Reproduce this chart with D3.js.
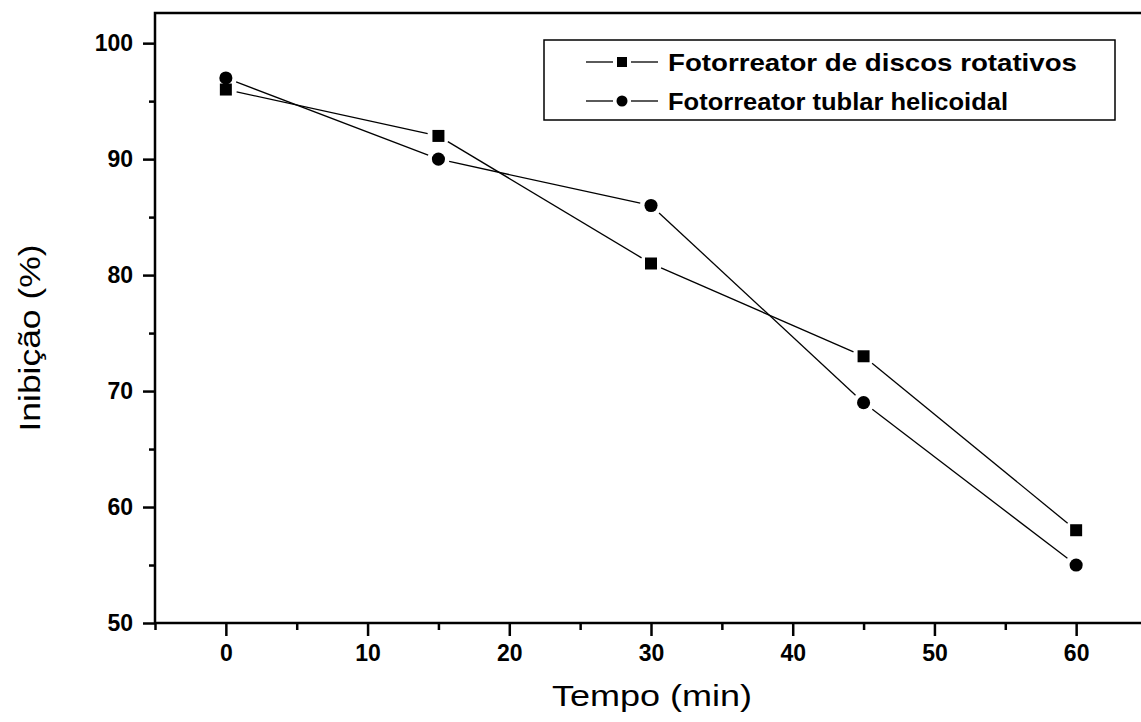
<!DOCTYPE html>
<html><head><meta charset="utf-8">
<script src="https://cdn.jsdelivr.net/npm/d3@7"></script>
<style>body{margin:0;background:#fff}text{font-family:"Liberation Sans",Arial,sans-serif}</style>
</head><body>
<svg id="c" width="1141" height="722"></svg>
<script>
const tempo = [0, 15, 30, 45, 60];
const discos = [96, 92, 81, 73, 58];
const tubular = [97, 90, 86, 69, 55];
const seriesNames = ["Fotorreator de discos rotativos", "Fotorreator tublar helicoidal"];
const xTicks = [0, 10, 20, 30, 40, 50, 60];
const yTicks = [50, 60, 70, 80, 90, 100];

const svg = d3.select("#c");
const x = d3.scaleLinear().domain([-5, 65]).range([155, 1147]);
const y = d3.scaleLinear().domain([50, 102.6]).range([623, 13]);

svg.append("rect").attr("x",155).attr("y",13).attr("width",992).attr("height",610)
  .attr("fill","none").attr("stroke","#000").attr("stroke-width",2.5);

const xa = svg.append("g").attr("transform","translate(0,623)")
  .call(d3.axisBottom(x).tickValues(xTicks).tickSize(13).tickPadding(9).tickFormat(d3.format("d")));
const xm = svg.append("g").attr("transform","translate(0,623)")
  .call(d3.axisBottom(x).tickValues(d3.range(-5,66,10)).tickSize(7).tickFormat(""));
const ya = svg.append("g").attr("transform","translate(155,0)")
  .call(d3.axisLeft(y).tickValues(yTicks).tickSize(12).tickPadding(10));
const ym = svg.append("g").attr("transform","translate(155,0)")
  .call(d3.axisLeft(y).tickValues([55,65,75,85,95]).tickSize(6).tickFormat(""));
[xa,xm,ya,ym].forEach(g=>{
  g.attr("font-size",null).attr("font-family",null);
  g.select(".domain").remove();
  g.selectAll("line").attr("stroke","#000").attr("stroke-width",2.5);
  g.selectAll("text").style("font-size","23px").style("font-weight","bold").attr("fill","#000");
});

svg.append("text").attr("x",652).attr("y",706).attr("text-anchor","middle")
  .style("font-size","30px").attr("textLength",200).attr("lengthAdjust","spacingAndGlyphs").text("Tempo (min)");
svg.append("text").attr("transform","translate(40,338) rotate(-90)").attr("text-anchor","middle")
  .style("font-size","30px").attr("textLength",187).attr("lengthAdjust","spacingAndGlyphs").text("Inibição (%)");

const gap = 11;
function drawSeries(vals, shape){
  const pts = tempo.map((t,i)=>[x(t), y(vals[i])]);
  for(let i=0;i<pts.length-1;i++){
    const [x1,y1]=pts[i],[x2,y2]=pts[i+1];
    const dx=x2-x1, dy=y2-y1, L=Math.hypot(dx,dy);
    const ux=dx/L, uy=dy/L;
    svg.append("line").attr("x1",x1+ux*gap).attr("y1",y1+uy*gap)
      .attr("x2",x2-ux*gap).attr("y2",y2-uy*gap)
      .attr("stroke","#000").attr("stroke-width",1.3);
  }
  const sym = d3.symbol().type(shape==="sq"?d3.symbolSquare:d3.symbolCircle).size(shape==="sq"?144:135);
  svg.selectAll(null).data(pts).enter().append("path")
    .attr("transform",d=>`translate(${d[0]},${d[1]})`).attr("d",sym).attr("fill","#000");
}
drawSeries(discos,"sq");
drawSeries(tubular,"ci");

svg.append("rect").attr("x",544).attr("y",40).attr("width",571).attr("height",80)
  .attr("fill","#fff").attr("stroke","#000").attr("stroke-width",1.5);
const legY=[62,101];
const legLen=[409,340];
seriesNames.forEach((n,i)=>{
  const ly=legY[i];
  svg.append("line").attr("x1",586).attr("x2",613).attr("y1",ly).attr("y2",ly).attr("stroke","#000").attr("stroke-width",1.3);
  svg.append("line").attr("x1",631).attr("x2",658).attr("y1",ly).attr("y2",ly).attr("stroke","#000").attr("stroke-width",1.3);
  const sym = d3.symbol().type(i===0?d3.symbolSquare:d3.symbolCircle).size(i===0?100:95);
  svg.append("path").attr("transform",`translate(622,${ly})`).attr("d",sym).attr("fill","#000");
  svg.append("text").attr("x",668).attr("y",ly+9).style("font-size","24px").style("font-weight","bold")
    .attr("textLength",legLen[i]).attr("lengthAdjust","spacingAndGlyphs").text(n);
});
</script>
</body></html>
